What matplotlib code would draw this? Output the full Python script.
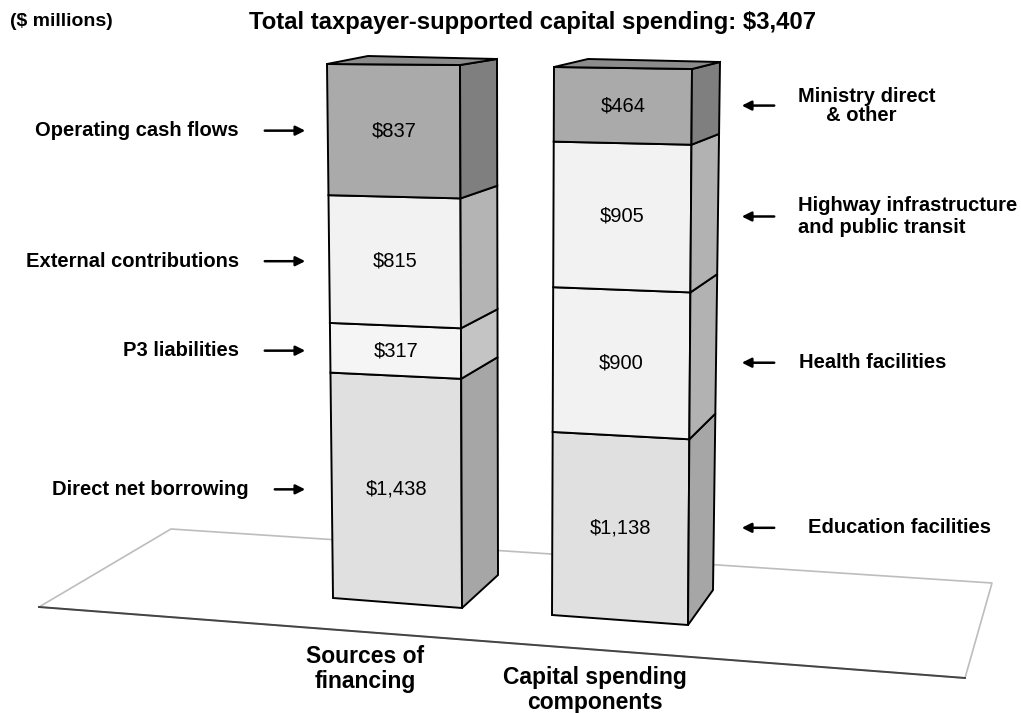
import matplotlib
matplotlib.use("Agg")
import matplotlib.pyplot as plt
from matplotlib.patches import Polygon

plt.rcParams["font.family"] = ["Liberation Sans", "DejaVu Sans"]

# values in $ millions, listed from the bottom of each column upwards
sources_names = ["Direct net borrowing", "P3 liabilities",
                 "External contributions", "Operating cash flows"]
sources_values = [1438, 317, 815, 837]

spending_names = ["Education facilities", "Health facilities",
                  "Highway infrastructure\nand public transit",
                  "Ministry direct\n     & other"]
spending_values = [1138, 900, 905, 464]

title = "Total taxpayer-supported capital spending: $3,407"
units = "($ millions)"
column_titles = ["Sources of\nfinancing", "Capital spending\ncomponents"]

# face colours (front, side) per segment, bottom to top
sources_colors = [("#e0e0e0", "#a6a6a6"), ("#f5f5f5", "#c4c4c4"),
                  ("#f2f2f2", "#b4b4b4"), ("#aaaaaa", "#7f7f7f")]
spending_colors = [("#e0e0e0", "#a6a6a6"), ("#f2f2f2", "#b2b2b2"),
                   ("#f2f2f2", "#b2b2b2"), ("#aaaaaa", "#7f7f7f")]
top_color = "#8c8c8c"

# column outlines in pixel space: (bottom, top) for the front-left,
# front-right and back-right edges, plus the back-left top corner
left_box = dict(fl=((333, 598), (327, 64)), fr=((462, 608), (460, 65)),
                br=((498, 575), (497, 59)), bl=(368, 56))
right_box = dict(fl=((552, 615), (554, 67)), fr=((688, 625), (692, 69)),
                 br=((713, 590), (720, 62)), bl=(588, 59))

floor = [(39, 607), (171, 529), (992, 583), (965, 678)]


def along(edge, f):
    (x0, y0), (x1, y1) = edge
    return (x0 + (x1 - x0) * f, y0 + (y1 - y0) * f)


def draw_column(ax, box, values, colors):
    total = float(sum(values))
    centers = []
    lo = 0.0
    for v, (front, side) in zip(values, colors):
        hi = lo + v / total
        ax.add_patch(Polygon([along(box["fl"], lo), along(box["fr"], lo),
                              along(box["fr"], hi), along(box["fl"], hi)],
                             closed=True, fc=front, ec="black", lw=1.4, zorder=3))
        ax.add_patch(Polygon([along(box["fr"], lo), along(box["br"], lo),
                              along(box["br"], hi), along(box["fr"], hi)],
                             closed=True, fc=side, ec="black", lw=1.4, zorder=3))
        mid = (lo + hi) / 2
        xl, yl = along(box["fl"], mid)
        xr, yr = along(box["fr"], mid)
        centers.append((((xl + xr) / 2), (yl + yr) / 2))
        ax.text((xl + xr) / 2, (yl + yr) / 2, f"${v:,}", ha="center",
                va="center", fontsize=14.5, zorder=4)
        lo = hi
    ax.add_patch(Polygon([along(box["fl"], 1), along(box["fr"], 1),
                          along(box["br"], 1), box["bl"]],
                         closed=True, fc=top_color, ec="black", lw=1.4, zorder=3))
    return centers


fig = plt.figure(figsize=(10.21, 7.13), dpi=100)
ax = fig.add_axes([0, 0, 1, 1])
ax.set_xlim(0, 1021)
ax.set_ylim(713, 0)
ax.axis("off")

# floor plane under the columns
fx, fy = zip(*floor)
ax.plot([fx[3], fx[0], fx[1], fx[2], fx[3]], [fy[3], fy[0], fy[1], fy[2], fy[3]],
        color="#bdbdbd", lw=1.2, zorder=1)
ax.plot([fx[0], fx[3]], [fy[0], fy[3]], color="#444444", lw=1.4, zorder=1)

left_centers = draw_column(ax, left_box, sources_values, sources_colors)
right_centers = draw_column(ax, right_box, spending_values, spending_colors)

arrow = dict(arrowstyle="-|>", color="black", lw=1.8, mutation_scale=14)
bold = dict(fontsize=14.5, fontweight="bold")

left_label_x = [249, 239, 239, 239]
for name, (cx, cy), lx in zip(sources_names, left_centers, left_label_x):
    ax.text(lx, cy, name, ha="right", va="center", **bold)
    ax.annotate("", xy=(308, cy), xytext=(lx + 23, cy), arrowprops=arrow)

right_label_x = [808, 799, 798, 798]
right_spacing = [1.15, 1.15, 1.2, 1.0]
for name, (cx, cy), lx, ls in zip(spending_names, right_centers,
                                  right_label_x, right_spacing):
    ax.text(lx, cy, name, ha="left", va="center", linespacing=ls, **bold)
    ax.annotate("", xy=(739, cy), xytext=(777, cy), arrowprops=arrow)

ax.text(10, 22, units, ha="left", va="center", fontsize=14, fontweight="bold")
ax.text(532, 23, title, ha="center", va="center", fontsize=17.2,
        fontweight="bold")

ax.text(365, 669, column_titles[0], ha="center", va="center", fontsize=16.5,
        fontweight="bold", linespacing=1.1)
ax.text(595, 690, column_titles[1], ha="center", va="center", fontsize=16.5,
        fontweight="bold", linespacing=1.1)

fig.savefig("out.png", dpi=100)
